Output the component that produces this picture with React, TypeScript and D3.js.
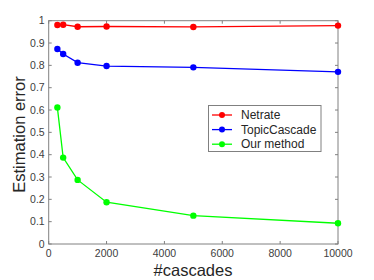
import * as d3 from "d3";
import React from "react";

// number of cascades on the x axis
const cascades = [300, 500, 1000, 2000, 5000, 10000];

// estimation error per method
const netrate = [0.981, 0.982, 0.973, 0.974, 0.972, 0.978];
const topicCascade = [0.873, 0.851, 0.812, 0.797, 0.791, 0.771];
const ourMethod = [0.611, 0.387, 0.287, 0.187, 0.127, 0.093];

const seriesNames = ["Netrate", "TopicCascade", "Our method"];
const seriesColors = ["#ff0000", "#0000ff", "#00ff00"];

const xTicks = [0, 2000, 4000, 6000, 8000, 10000];
const yTicks = [0, 0.1, 0.2, 0.3, 0.4, 0.5, 0.6, 0.7, 0.8, 0.9, 1];

const App = () => {
  const width = 374;
  const height = 280;
  const margin = { top: 20.7, right: 36, bottom: 36, left: 48.7 };
  const innerWidth = width - margin.left - margin.right;
  const innerHeight = 244 - margin.top;

  const x = d3.scaleLinear().domain([0, 10000]).range([0, innerWidth]);
  const y = d3.scaleLinear().domain([0, 1]).range([innerHeight, 0]);

  const line = d3
    .line<[number, number]>()
    .x((d) => x(d[0]))
    .y((d) => y(d[1]));

  const series = [netrate, topicCascade, ourMethod].map((vals, i) => ({
    name: seriesNames[i],
    color: seriesColors[i],
    points: cascades.map((c, j) => [c, vals[j]] as [number, number]),
  }));

  const axisColor = "#808080";
  const textColor = "#404040";
  const font = "'Liberation Sans', Arial, sans-serif";
  const tickLen = 3;

  return (
    <svg
      width={width}
      height={height}
      style={{ position: "absolute", left: 0, top: 0, background: "#fff" }}
      fontFamily={font}
    >
      <g transform={`translate(${margin.left},${margin.top})`}>
        {/* box */}
        <rect
          x={0}
          y={0}
          width={innerWidth}
          height={innerHeight}
          fill="none"
          stroke={axisColor}
          strokeWidth={1}
        />
        {/* x ticks */}
        {xTicks.map((t) => (
          <g key={`x${t}`}>
            <line x1={x(t)} x2={x(t)} y1={innerHeight} y2={innerHeight - tickLen} stroke={axisColor} />
            <line x1={x(t)} x2={x(t)} y1={0} y2={tickLen} stroke={axisColor} />
            <text
              x={x(t)}
              y={innerHeight + 13.5}
              textAnchor="middle"
              fontSize={10.5}
              fill={textColor}
            >
              {t}
            </text>
          </g>
        ))}
        {/* y ticks */}
        {yTicks.map((t) => (
          <g key={`y${t}`}>
            <line x1={0} x2={tickLen} y1={y(t)} y2={y(t)} stroke={axisColor} />
            <line x1={innerWidth} x2={innerWidth - tickLen} y1={y(t)} y2={y(t)} stroke={axisColor} />
            <text
              x={-4}
              y={y(t)}
              dy="0.35em"
              textAnchor="end"
              fontSize={10.5}
              fill={textColor}
            >
              {d3.format("~g")(t)}
            </text>
          </g>
        ))}
        {/* lines */}
        {series.map((s) => (
          <g key={s.name}>
            <path d={line(s.points) ?? ""} fill="none" stroke={s.color} strokeWidth={1.3} />
            {s.points.map((p, i) => (
              <circle key={i} cx={x(p[0])} cy={y(p[1])} r={3.2} fill={s.color} />
            ))}
          </g>
        ))}
      </g>
      {/* axis labels */}
      <text x={193} y={276} textAnchor="middle" fontSize={16.5} fill="#262626">
        #cascades
      </text>
      <text
        transform="translate(25,134.5) rotate(-90)"
        textAnchor="middle"
        fontSize={16.5}
        fill="#262626"
      >
        Estimation error
      </text>
      {/* legend */}
      <g transform="translate(208.5,105.5)">
        <rect x={0} y={0} width={112.5} height={46} fill="#fff" stroke={axisColor} />
        {series.map((s, i) => {
          const cy = 9.5 + i * 14.6;
          return (
            <g key={s.name}>
              <line x1={3.5} x2={23.5} y1={cy} y2={cy} stroke={s.color} strokeWidth={1.3} />
              <circle cx={13.5} cy={cy} r={3} fill={s.color} />
              <text x={32.5} y={cy} dy="0.35em" fontSize={12} fill="#262626">
                {s.name}
              </text>
            </g>
          );
        })}
      </g>
    </svg>
  );
};

export default App;
